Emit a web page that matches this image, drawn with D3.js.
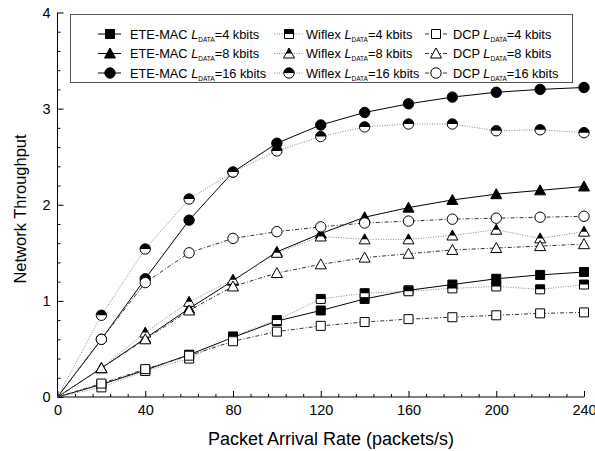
<!DOCTYPE html>
<html lang="en">
<head>
<meta charset="UTF-8">
<title>Network Throughput vs Packet Arrival Rate</title>
<script src="https://d3js.org/d3.v7.min.js"></script>
<style>
    body { margin: 0; background: #fff; font-family: Arial, "Liberation Sans", sans-serif; }
    svg { display: block; }
</style>
</head>
<body>
<svg width="595" height="451"></svg>
<script>
// packet arrival rates (x)
const rates = [0, 20, 40, 60, 80, 100, 120, 140, 160, 180, 200, 220, 240];

// throughput
const eteMac4  = [0, 0.13, 0.28, 0.44, 0.62, 0.79, 0.90, 1.02, 1.11, 1.17, 1.23, 1.27, 1.30];
const eteMac8  = [0, 0.30, 0.61, 0.92, 1.21, 1.51, 1.70, 1.87, 1.97, 2.05, 2.11, 2.15, 2.19];
const eteMac16 = [0, 0.60, 1.23, 1.84, 2.34, 2.64, 2.83, 2.96, 3.05, 3.12, 3.17, 3.20, 3.22];
const wiflex4  = [0, 0.10, 0.27, 0.40, 0.63, 0.80, 1.02, 1.08, 1.10, 1.13, 1.15, 1.12, 1.17];
const wiflex8  = [0, 0.30, 0.67, 0.99, 1.22, 1.50, 1.67, 1.64, 1.64, 1.68, 1.74, 1.65, 1.72];
const wiflex16 = [0, 0.85, 1.54, 2.06, 2.34, 2.56, 2.71, 2.81, 2.84, 2.84, 2.77, 2.78, 2.75];
const dcp4     = [0, 0.14, 0.29, 0.43, 0.58, 0.68, 0.74, 0.78, 0.81, 0.83, 0.85, 0.87, 0.88];
const dcp8     = [0, 0.30, 0.60, 0.90, 1.15, 1.29, 1.38, 1.45, 1.49, 1.53, 1.55, 1.57, 1.59];
const dcp16    = [0, 0.60, 1.19, 1.50, 1.65, 1.72, 1.77, 1.81, 1.83, 1.85, 1.86, 1.87, 1.88];

const xTicks = [0, 40, 80, 120, 160, 200, 240];
const yTicks = [0, 1, 2, 3, 4];

// series table: order = legend order (row by row)
const series = [
    { name: "ETE-MAC", size: "4",  values: eteMac4,  shape: "square",   fill: "full",  line: "solid" },
    { name: "Wiflex",  size: "4",  values: wiflex4,  shape: "square",   fill: "half",  line: "dot" },
    { name: "DCP",     size: "4",  values: dcp4,     shape: "square",   fill: "open",  line: "dashdot" },
    { name: "ETE-MAC", size: "8",  values: eteMac8,  shape: "triangle", fill: "full",  line: "solid" },
    { name: "Wiflex",  size: "8",  values: wiflex8,  shape: "triangle", fill: "half",  line: "dot" },
    { name: "DCP",     size: "8",  values: dcp8,     shape: "triangle", fill: "open",  line: "dashdot" },
    { name: "ETE-MAC", size: "16", values: eteMac16, shape: "circle",   fill: "full",  line: "solid" },
    { name: "Wiflex",  size: "16", values: wiflex16, shape: "circle",   fill: "half",  line: "dot" },
    { name: "DCP",     size: "16", values: dcp16,    shape: "circle",   fill: "open",  line: "dashdot" }
];

const FONT = "Arial, 'Liberation Sans', sans-serif";
const svg = d3.select("svg").attr("font-family", FONT);
const margin = { top: 12.5, left: 57.5, right: 11, bottom: 54 };
const W = 595, H = 451;
const x = d3.scaleLinear().domain([0, 240]).range([margin.left, W - margin.right]);
const y = d3.scaleLinear().domain([0, 4]).range([H - margin.bottom, margin.top]);

// clip halves for half-filled markers
const defs = svg.append("defs");
defs.append("clipPath").attr("id", "topHalf")
    .append("rect").attr("x", -10).attr("y", -10).attr("width", 20).attr("height", 10);

const lineStyle = {
    solid:   { stroke: "#000", width: 1, dash: null },
    dot:     { stroke: "#888", width: 1, dash: "1,1.5" },
    dashdot: { stroke: "#333", width: 1, dash: "4,2,1,2" }
};

function shapePath(shape) {
    if (shape === "square") return "M-4.5,-4.5H4.5V4.5H-4.5Z";
    if (shape === "triangle") return "M0,-5.5L5.5,4.5H-5.5Z";
    return d3.symbol(d3.symbolCircle, Math.PI * 27)();
}

function drawMarker(g, s) {
    const p = shapePath(s.shape);
    if (s.fill === "full") {
        g.append("path").attr("d", p).attr("fill", "#000").attr("stroke", "#000").attr("stroke-width", 1);
    } else if (s.fill === "open") {
        g.append("path").attr("d", p).attr("fill", "#fff").attr("stroke", "#000").attr("stroke-width", 1);
    } else {
        g.append("path").attr("d", p).attr("fill", "#fff");
        g.append("path").attr("d", p).attr("fill", "#000").attr("clip-path", "url(#topHalf)");
        g.append("path").attr("d", p).attr("fill", "none").attr("stroke", "#000").attr("stroke-width", 1);
    }
}

// axes: ticks pointing inward
const xAxis = svg.append("g").attr("transform", `translate(0,${y(0)})`);
xAxis.call(d3.axisBottom(x).tickValues(d3.range(0, 241, 8)).tickSize(-3).tickFormat(""));
xAxis.call(g => g.selectAll(".tick").filter(d => d % 40 === 0).select("line").attr("y2", -6));
xAxis.select(".domain").attr("d", `M${x(0)},0H${x(240)}`);

const xLabels = svg.append("g").attr("transform", `translate(0,${y(0)})`)
    .call(d3.axisBottom(x).tickValues(xTicks).tickSize(0).tickPadding(8));
xLabels.select(".domain").remove();
xLabels.selectAll("text").attr("font-size", 14.5).attr("font-family", FONT).attr("fill", "#000");

const yAxis = svg.append("g").attr("transform", `translate(${x(0)},0)`);
yAxis.call(d3.axisLeft(y).tickValues(d3.range(0, 4.01, 0.2)).tickSize(-3).tickFormat(""));
yAxis.call(g => g.selectAll(".tick").filter(d => Math.abs(d - Math.round(d)) < 1e-6).select("line").attr("x2", 6));
yAxis.select(".domain").attr("d", `M0,${y(0)}V${y(4)}`);

const yLabels = svg.append("g").attr("transform", `translate(${x(0)},0)`)
    .call(d3.axisLeft(y).tickValues(yTicks).tickSize(0).tickPadding(7).tickFormat(d3.format("d")));
yLabels.select(".domain").remove();
yLabels.selectAll("text").attr("font-size", 14.5).attr("font-family", FONT).attr("fill", "#000");

svg.selectAll(".domain, .tick line").attr("stroke", "#000").attr("stroke-width", 1);

// series lines
const line = d3.line().x((d, i) => x(rates[i])).y(d => y(d));
series.forEach(s => {
    const st = lineStyle[s.line];
    svg.append("path").datum(s.values).attr("d", line)
        .attr("fill", "none").attr("stroke", st.stroke).attr("stroke-width", st.width)
        .attr("stroke-dasharray", st.dash);
});
// markers (skip origin)
series.forEach(s => {
    s.values.forEach((v, i) => {
        if (i === 0) return;
        const g = svg.append("g").attr("transform", `translate(${x(rates[i])},${y(v)})`);
        drawMarker(g, s);
    });
});

// legend
const legend = svg.append("g");
legend.append("rect").attr("x", 70.5).attr("y", 14.5).attr("width", 502).attr("height", 68)
    .attr("fill", "#fff").attr("stroke", "#555").attr("stroke-width", 1);
const colX = [[98, 121, 110, 130], [274, 303, 289, 306], [425, 447, 436, 453]];
const rowY = [34, 53.5, 73];
series.forEach((s, k) => {
    const c = colX[k % 3], r = rowY[Math.floor(k / 3)];
    const st = lineStyle[s.line];
    legend.append("line").attr("x1", c[0]).attr("x2", c[1]).attr("y1", r).attr("y2", r)
        .attr("stroke", st.stroke).attr("stroke-width", st.width).attr("stroke-dasharray", st.dash);
    drawMarker(legend.append("g").attr("transform", `translate(${c[2]},${r})`), s);
    const t = legend.append("text").attr("x", c[3]).attr("y", r + 4.5).attr("font-size", 12.8);
    t.append("tspan").text(s.name + " ");
    t.append("tspan").attr("font-style", "italic").text("L");
    t.append("tspan").attr("font-size", 6.5).attr("dy", 3).text("DATA");
    t.append("tspan").attr("dy", -3).text("=" + s.size + " kbits");
});

// axis titles
svg.append("text").attr("x", 331).attr("y", 445).attr("text-anchor", "middle")
    .attr("font-size", 18).text("Packet Arrival Rate (packets/s)");
svg.append("text").attr("transform", "translate(26,209) rotate(-90)").attr("text-anchor", "middle")
    .attr("font-size", 16.5).text("Network Throughput");
</script>
</body>
</html>
